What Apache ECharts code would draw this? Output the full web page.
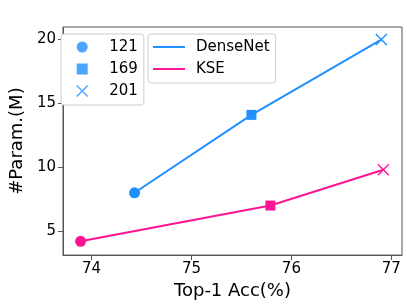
<!DOCTYPE html>
<html>
<head>
<meta charset="utf-8">
<script src="https://cdn.jsdelivr.net/npm/echarts@6/dist/echarts.min.js"></script>
<style>html,body{margin:0;padding:0;background:#fff}#c{width:407px;height:305px}</style>
</head>
<body>
<div id="c"></div>
<script>
const xTicks = [74, 75, 76, 77];
const yTicks = [5, 10, 15, 20];
const depthLabels = ['121', '169', '201'];
const seriesNames = ['DenseNet', 'KSE'];
const denseAcc = [74.43, 75.60, 76.90];
const denseParam = [8.0, 14.1, 20.0];
const kseAcc = [73.89, 75.79, 76.92];
const kseParam = [4.2, 7.0, 9.8];

const BLUE = '#1E90FF', PINK = '#FF1493';
const FONT = 'DejaVu Sans';
const XPATH = 'path://M0,0L10,10M10,0L0,10';
const SQPATH = 'path://M0,0L10,0L10,10L0,10Z';
const markers = ['circle', SQPATH, XPATH];
const markerSizes = [11, 10, 11];

function pts(xs, ys, color) {
  return xs.map((x, i) => {
    const isX = i === 2;
    return {
      value: [x, ys[i]],
      symbol: markers[i],
      symbolSize: markerSizes[i],
      itemStyle: isX ? {color: 'rgba(0,0,0,0)', borderColor: color, borderWidth: 1.4} : {color: color, borderWidth: 0}
    };
  });
}

const chart = echarts.init(document.getElementById('c'), null, {renderer: 'canvas'});
const legendText = {fontFamily: FONT, fontSize: 15, color: '#000', lineHeight: 16};
chart.setOption({
  animation: false,
  grid: {left: 53, right: 5, top: 27, bottom: 47, show: true, borderColor: '#555', borderWidth: 1, containLabel: false},
  xAxis: {
    type: 'value', min: 73.714, max: 77.107,
    name: 'Top-1 Acc(%)', nameLocation: 'middle', nameGap: 24,
    nameTextStyle: {fontFamily: FONT, fontSize: 18, color: '#000'},
    axisLine: {show: true, lineStyle: {color: '#555', width: 1}},
    axisTick: {show: true, length: 5, lineStyle: {color: '#555'}, customValues: xTicks},
    axisLabel: {fontFamily: FONT, fontSize: 15, color: '#000', margin: 7, customValues: xTicks},
    splitLine: {show: false}
  },
  yAxis: {
    type: 'value', min: 3.12, max: 20.98,
    name: '#Param.(M)', nameLocation: 'middle', nameGap: 30,
    nameTextStyle: {fontFamily: FONT, fontSize: 18, color: '#000'},
    axisLine: {show: true, lineStyle: {color: '#555', width: 1}},
    axisTick: {show: true, length: 5, lineStyle: {color: '#555'}, customValues: yTicks},
    axisLabel: {fontFamily: FONT, fontSize: 15, color: '#000', margin: 7, customValues: yTicks},
    splitLine: {show: false}
  },
  legend: [
    {
      left: 61, top: 34, orient: 'vertical', selectedMode: false,
      backgroundColor: '#fff', borderColor: '#ccc', borderWidth: 1, borderRadius: 3,
      padding: [5, 6, 6, 15], itemGap: 6, itemWidth: 30, itemHeight: 11,
      textStyle: Object.assign({padding: [0, 0, 0, 7]}, legendText),
      data: depthLabels.map((n, i) => ({
        name: n, icon: markers[i],
        itemStyle: i === 2 ? {color: 'rgba(0,0,0,0)', borderColor: BLUE, borderWidth: 1.4} : {color: BLUE, borderWidth: 0}
      }))
    },
    {
      left: 148, top: 34, orient: 'vertical', selectedMode: false,
      backgroundColor: '#fff', borderColor: '#ccc', borderWidth: 1, borderRadius: 3,
      padding: [5, 6, 6, 5], itemGap: 6, itemWidth: 32, itemHeight: 2,
      textStyle: Object.assign({padding: [0, 0, 0, 6]}, legendText),
      data: seriesNames.map((n, i) => ({
        name: n, icon: 'rect',
        itemStyle: {color: i === 0 ? BLUE : PINK, borderWidth: 0}
      }))
    }
  ],
  series: [
    {name: 'DenseNet', type: 'line', color: BLUE, lineStyle: {color: BLUE, width: 2}, data: pts(denseAcc, denseParam, BLUE), z: 3},
    {name: 'KSE', type: 'line', color: PINK, lineStyle: {color: PINK, width: 2}, data: pts(kseAcc, kseParam, PINK), z: 3}
  ].concat(depthLabels.map((n, i) => ({
    name: n, type: 'scatter', data: [], symbol: markers[i], itemStyle: {color: BLUE}
  })))
});
</script>
</body>
</html>
